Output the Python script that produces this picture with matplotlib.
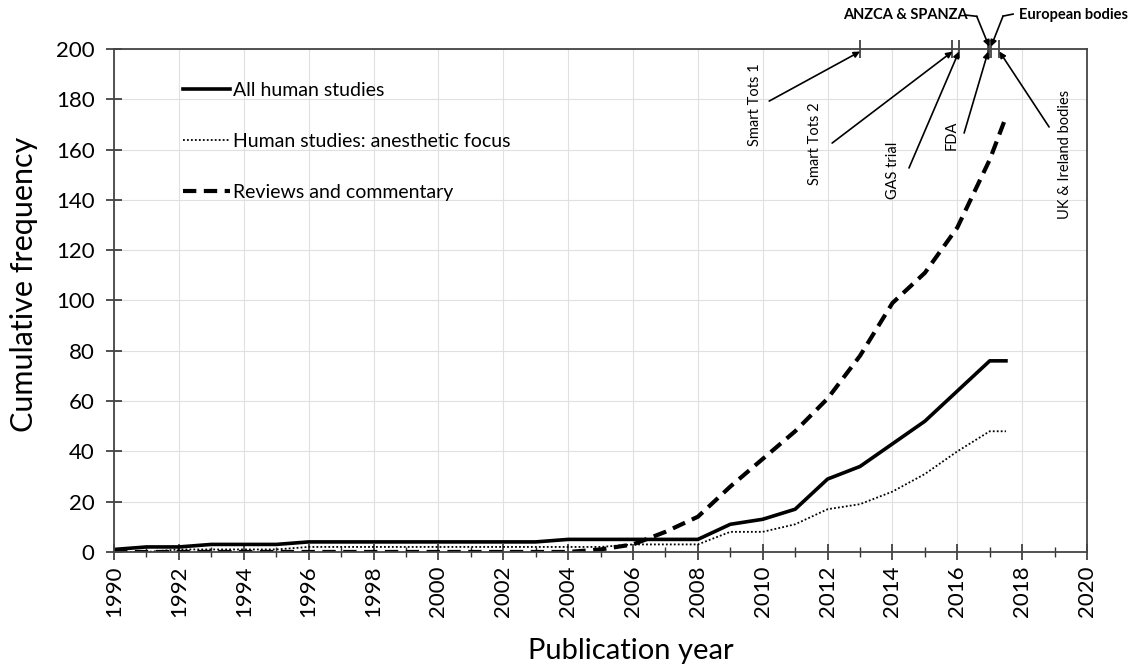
import matplotlib
matplotlib.use("Agg")
import matplotlib.pyplot as plt
from matplotlib.ticker import MultipleLocator

plt.rcParams['font.family'] = ['Lato', 'DejaVu Sans']

years = [1990, 1991, 1992, 1993, 1994, 1995, 1996, 1997, 1998, 1999, 2000,
         2001, 2002, 2003, 2004, 2005, 2006, 2007, 2008, 2009, 2010, 2011,
         2012, 2013, 2014, 2015, 2016, 2017, 2017.5]
all_human = [1, 2, 2, 3, 3, 3, 4, 4, 4, 4, 4, 4, 4, 4, 5, 5, 5, 5, 5,
             11, 13, 17, 29, 34, 43, 52, 64, 76, 76]
anesthetic_focus = [0, 0, 1, 1, 1, 1, 2, 2, 2, 2, 2, 2, 2, 2, 2, 2, 3, 3, 3,
                    8, 8, 11, 17, 19, 24, 31, 40, 48, 48]
reviews = [0, 0, 0, 0, 0, 0, 0, 0, 0, 0, 0, 0, 0, 0, 0, 1, 3, 8, 14,
           26, 37, 48, 61, 78, 99, 111, 129, 156, 173]

series_labels = ["All human studies", "Human studies: anesthetic focus",
                 "Reviews and commentary"]

event_labels = ["Smart Tots 1", "Smart Tots 2", "GAS trial", "FDA",
                "UK & Ireland bodies", "ANZCA & SPANZA", "European bodies"]
event_years = [2013.0, 2015.85, 2016.05, 2016.95, 2017.3, 2016.98, 2017.04]

fig = plt.figure(figsize=(11.36, 6.68), dpi=100)
ax = fig.add_axes([0.1004, 0.1737, 0.8565, 0.7529])

ax.plot(years, all_human, color='black', lw=2.6, solid_joinstyle='round',
        label=series_labels[0])
ax.plot(years, anesthetic_focus, color='black', lw=1.3, linestyle=(0, (1, 1.2)),
        label=series_labels[1])
ax.plot(years, reviews, color='black', lw=3.0, linestyle=(0, (3.2, 1.8)),
        label=series_labels[2])

ax.set_xlim(1990, 2020)
ax.set_ylim(0, 200)
ax.xaxis.set_major_locator(MultipleLocator(2))
ax.xaxis.set_minor_locator(MultipleLocator(1))
ax.yaxis.set_major_locator(MultipleLocator(20))
ax.grid(True, which='major', color='#e0e0e0', lw=0.8)
ax.set_axisbelow(True)
ax.tick_params(axis='both', which='major', direction='inout', length=12,
               width=1.2, color='#333333', labelsize=16)
ax.tick_params(axis='y', which='major', pad=8)
ax.tick_params(axis='x', which='minor', direction='inout', length=7,
               width=1.0, color='#333333')
ax.tick_params(axis='x', labelrotation=90)
for s in ax.spines.values():
    s.set_color('#444444')
    s.set_linewidth(1.3)

ax.set_xlabel("Publication year", fontsize=21, labelpad=16)
ax.xaxis.set_label_coords(0.531, -0.172)
ax.set_ylabel("Cumulative frequency", fontsize=22)
ax.yaxis.set_label_coords(-0.078, 0.533)

leg = ax.legend(loc='upper left', bbox_to_anchor=(0.063, 0.950), frameon=False,
                fontsize=14, handlelength=2.4, handletextpad=0.15,
                labelspacing=1.75, borderaxespad=0)

# event markers on the top edge
ax.plot(event_years, [200] * len(event_years), linestyle='none', marker='|',
        markersize=13, markeredgewidth=1.2, color='#333333', clip_on=False)

arrow = dict(arrowstyle='-|>', color='black', lw=1.2, mutation_scale=9,
             shrinkA=0, shrinkB=0)
ann_fs = 10.5
# rotated labels: (text x, text y, tail x, tail y)
rot_pos = [(2009.76, 177.7, 2010.2, 179.3),
           (2011.61, 162.2, 2012.14, 162.6),
           (2014.02, 151.9, 2014.51, 152.7),
           (2015.84, 165.8, 2016.21, 166.6),
           (2019.32, 157.9, 2018.83, 169.0)]
for i, (tx, ty, ax_, ay_) in enumerate(rot_pos):
    ax.text(tx, ty, event_labels[i], rotation=90, ha='center', va='center',
            fontsize=ann_fs)
    ax.annotate("", xy=(event_years[i], 199), xytext=(ax_, ay_),
                arrowprops=arrow, annotation_clip=False)

# horizontal labels above the plot
ax.text(2014.39, 213.5, event_labels[5], ha='center', va='center',
        fontsize=ann_fs, fontweight='bold')
ax.plot([2016.27, 2016.6], [213.5, 213.0], color='black', lw=1.2, clip_on=False)
ax.annotate("", xy=(event_years[5], 201), xytext=(2016.6, 213.0),
            arrowprops=arrow, annotation_clip=False)
ax.text(2019.57, 213.5, event_labels[6], ha='center', va='center',
        fontsize=ann_fs, fontweight='bold')
ax.plot([2017.72, 2017.41], [213.9, 213.1], color='black', lw=1.2, clip_on=False)
ax.annotate("", xy=(event_years[6], 201), xytext=(2017.41, 213.1),
            arrowprops=arrow, annotation_clip=False)

fig.savefig("out.png", dpi=100)
